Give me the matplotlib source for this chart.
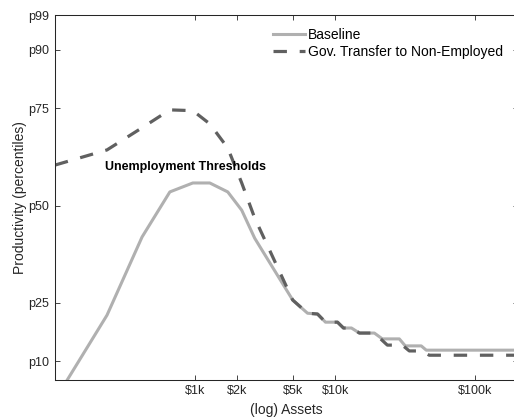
import numpy as np
import matplotlib
matplotlib.use('Agg')
import matplotlib.pyplot as plt

plt.rcParams['font.family'] = ['Liberation Sans', 'DejaVu Sans']

# asset grid points (dollars) and productivity percentiles
base_assets = [100, 235, 418, 660, 963, 1272, 1709, 2150, 2660, 4967, 6340, 7470,
               8515, 10370, 11440, 13040, 14870, 19010, 21670, 28640, 31590,
               41070, 44590, 200000]
base_pct = [0.0, 21.8, 41.9, 53.5, 55.8, 55.8, 53.5, 48.8, 41.6, 25.7, 22.3, 22.1,
            20.0, 20.0, 18.5, 18.5, 17.2, 17.2, 15.7, 15.7, 13.9,
            13.9, 12.8, 12.8]

gov_assets = [100, 235, 418, 660, 963, 1272, 1709, 2150, 2660, 4967, 6340, 7470,
              8515, 10370, 11440, 13040, 14870, 19010, 23530, 30080, 33750,
              41750, 46830, 200000]
gov_pct = [60.4, 64.3, 70.0, 74.6, 74.4, 71.0, 64.8, 55.8, 46.8, 25.7, 22.3, 22.1,
           20.0, 20.0, 18.5, 18.5, 17.2, 17.2, 14.1, 14.1, 12.6,
           12.6, 11.5, 11.5]

xticks = [1000, 2000, 5000, 10000, 100000]
xtick_labels = ['$1k', '$2k', '$5k', '$10k', '$100k']
yticks = [10, 25, 50, 75, 90, 99]
ytick_labels = ['p10', 'p25', 'p50', 'p75', 'p90', 'p99']

fig = plt.figure(figsize=(5.14, 4.19), dpi=100)
ax = fig.add_axes([0.107, 0.0919, 0.9, 0.8723])

ax.plot(base_assets, base_pct, color='#b0b0b0', lw=2.2, label='Baseline')
ax.plot(gov_assets, gov_pct, color='#606060', lw=2.3, dashes=(4.2, 4.0),
        label='Gov. Transfer to Non-Employed')

ax.set_xscale('log')
ax.set_xlim(100, 200000)
ax.set_ylim(5, 99)
ax.set_xticks(xticks)
ax.set_xticklabels(xtick_labels)
ax.xaxis.set_minor_locator(matplotlib.ticker.NullLocator())
ax.set_yticks(yticks)
ax.set_yticklabels(ytick_labels)

ax.tick_params(direction='in', length=3.6, width=0.6, color='#262626',
               labelcolor='#262626', labelsize=9, top=True, right=True, pad=4)
ax.tick_params(axis='x', pad=3.5)
for s in ax.spines.values():
    s.set_color('#262626')
    s.set_linewidth(0.75)

ax.set_xlabel('(log) Assets', fontsize=10, color='#262626', labelpad=4)
ax.set_ylabel('Productivity (percentiles)', fontsize=10, color='#262626', labelpad=1)

ax.text(860, 60, 'Unemployment Thresholds', fontsize=9, fontweight='bold',
        ha='center', va='center')

ax.legend(loc='upper left', bbox_to_anchor=(0.4715, 0.965), frameon=False,
          fontsize=10, handlelength=2.3, handletextpad=0.2, borderpad=0,
          borderaxespad=0, labelspacing=0.25)

fig.savefig('out.png', dpi=100)
